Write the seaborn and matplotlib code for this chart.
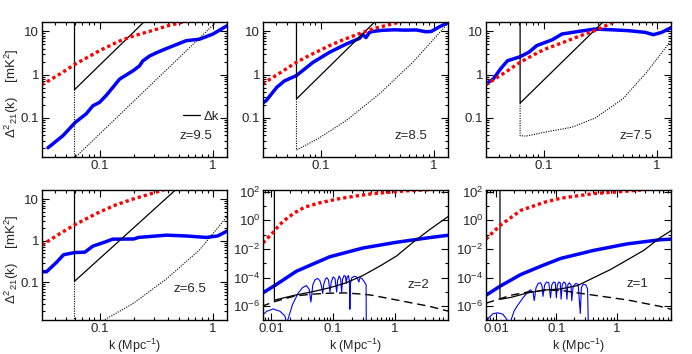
import numpy as np
import matplotlib
matplotlib.use('Agg')
import matplotlib.pyplot as plt
import seaborn as sns
from matplotlib.lines import Line2D
from matplotlib.ticker import FixedLocator, LogLocator, FuncFormatter, NullFormatter

# ---------------- z = 9.5 ----------------
z95_red_k = [0.0307, 0.045, 0.061, 0.08, 0.1, 0.15, 0.2, 0.3, 0.4, 0.5, 0.6]
z95_red_p = [0.58, 1.05, 1.76, 2.6, 3.6, 6.0, 7.9, 10.7, 13.5, 15.6, 17.5]
z95_blue_k = [0.035, 0.0475, 0.061, 0.076, 0.087, 0.1, 0.114, 0.131, 0.15, 0.197, 0.225,
              0.23, 0.24, 0.276, 0.316, 0.387, 0.58, 0.76, 1.0, 1.33]
z95_blue_p = [0.0204, 0.039, 0.079, 0.124, 0.19, 0.23, 0.33, 0.51, 0.79, 1.23, 1.6,
              1.75, 2.07, 2.7, 3.2, 4.0, 6.1, 6.6, 8.7, 13.5]
z95_dk_k = [0.060, 0.060, 0.246, 0.28]
z95_dk_p = [30, 0.45, 16.5, 23]
z95_dot_k = [0.060, 0.060, 1.07, 1.4]
z95_dot_p = [0.45, 0.0118, 16.5, 32]

# ---------------- z = 8.5 ----------------
z85_red_k = [0.0307, 0.045, 0.061, 0.08, 0.12, 0.16, 0.235, 0.3, 0.46, 0.55]
z85_red_p = [0.61, 1.15, 1.93, 2.8, 4.7, 6.5, 9.5, 11.8, 15.6, 17.5]
z85_blue_k = [0.0307, 0.033, 0.041, 0.048, 0.061, 0.0857, 0.12, 0.168, 0.22, 0.235, 0.251,
              0.27, 0.288, 0.35, 0.45, 0.55, 0.7, 0.85, 0.95, 1.1, 1.33]
z85_blue_p = [0.22, 0.25, 0.51, 0.72, 0.95, 1.93, 3.3, 5.1, 6.9, 8.5, 7.2,
              9.5, 10.0, 10.6, 10.9, 10.7, 10.8, 9.8, 10.0, 12.5, 16.0]
z85_dk_k = [0.0612, 0.0612, 0.30, 0.34]
z85_dk_p = [30, 0.275, 16.5, 22]
z85_dot_k = [0.0612, 0.0612, 0.098, 0.168, 0.33, 0.65, 1.31, 1.4]
z85_dot_p = [0.275, 0.018, 0.035, 0.087, 0.36, 1.93, 14.7, 18]

# ---------------- z = 7.5 ----------------
z75_red_k = [0.0307, 0.045, 0.062, 0.08, 0.103, 0.15, 0.204, 0.3, 0.40, 0.45]
z75_red_p = [0.58, 1.1, 1.93, 2.8, 3.9, 5.6, 7.7, 11.0, 15.9, 18]
z75_blue_k = [0.0307, 0.036, 0.042, 0.048, 0.062, 0.074, 0.087, 0.119, 0.145, 0.204,
              0.28, 0.4, 0.56, 0.79, 0.93, 1.1, 1.35]
z75_blue_p = [0.6, 0.8, 1.4, 2.1, 2.6, 3.3, 4.7, 6.4, 8.7, 10.0,
              11.3, 10.9, 10.4, 9.5, 8.4, 9.5, 12.4]
z75_dk_k = [0.062, 0.062, 0.334, 0.37]
z75_dk_p = [30, 0.22, 16.5, 21.5]
z75_dot_k = [0.062, 0.062, 0.07, 0.103, 0.178, 0.286, 0.5, 0.81, 1.36]
z75_dot_p = [0.22, 0.039, 0.038, 0.047, 0.061, 0.10, 0.275, 1.13, 6.6]

# ---------------- z = 6.5 ----------------
z65_red_k = [0.0307, 0.045, 0.060, 0.08, 0.1, 0.14, 0.197, 0.26, 0.34, 0.4]
z65_red_p = [0.78, 1.5, 2.4, 3.6, 4.9, 7.3, 10.0, 12.5, 15.6, 18]
z65_blue_k = [0.0307, 0.034, 0.042, 0.048, 0.060, 0.074, 0.087, 0.114, 0.13, 0.2, 0.22,
              0.39, 0.58, 0.87, 1.1, 1.33]
z65_blue_p = [0.18, 0.18, 0.31, 0.46, 0.52, 0.53, 0.74, 0.95, 1.09, 1.1, 1.2,
              1.36, 1.3, 1.2, 1.3, 1.7]
z65_dk_k = [0.060, 0.060, 0.44, 0.5]
z65_dk_p = [30, 0.106, 14.3, 19.6]
z65_dot_k = [0.060, 0.060, 0.107, 0.197, 0.387, 0.76, 1.33]
z65_dot_p = [0.106, 0.002, 0.012, 0.031, 0.12, 0.6, 3.8]

# ---------------- z = 2 (log10 of power) ----------------
z2_red_k = [0.0074, 0.0107, 0.0137, 0.0186, 0.0255, 0.0347, 0.06, 0.12, 0.25, 0.41, 1.0, 1.5, 3.8]
z2_red_lp = [-1.575, -0.85, -0.3, 0.2, 0.6, 0.92, 1.22, 1.5, 1.72, 1.85, 2.0, 2.06, 2.15]
z2_blue_k = [0.0074, 0.0114, 0.0255, 0.047, 0.088, 0.30, 1.04, 3.6, 7.1]
z2_blue_lp = [-5.05, -4.55, -3.55, -3.05, -2.54, -1.93, -1.53, -1.2, -1.04]
z2_dk_k = [0.0113, 0.0113, 0.0116, 0.024, 0.045, 0.088, 0.163, 0.30, 0.56, 1.04, 1.94, 3.6, 7.1, 8.0]
z2_dk_lp = [3.0, -5.6, -5.55, -5.22, -4.99, -4.7, -4.35, -3.85, -3.2, -2.5, -1.53, -0.64, 0.26, 0.4]
z2_dash_k = [0.0070, 0.0115, 0.024, 0.045, 0.088, 0.155, 0.30, 0.42, 1.04, 3.6, 7.1]
z2_dash_lp = [-6.0, -5.66, -5.28, -5.15, -5.08, -5.06, -5.15, -5.22, -5.55, -6.0, -6.33]
z2_wig_k = [0.0070, 0.0085, 0.0108, 0.0139, 0.0167, 0.0178,
            0.022, 0.027, 0.032, 0.037, 0.041, 0.0438,
            0.047, 0.051, 0.056, 0.061, 0.065, 0.0678,
            0.071, 0.075, 0.079, 0.084, 0.089,
            0.093, 0.100, 0.107, 0.114,
            0.118, 0.125, 0.132, 0.137,
            0.142, 0.150, 0.158, 0.163, 0.168, 0.176, 0.183, 0.186,
            0.19, 0.20, 0.22, 0.24, 0.26, 0.27, 0.29, 0.32, 0.34, 0.342]
z2_wig_lp = [-6.67, -6.34, -6.18, -6.34, -6.67, -7.2,
             -5.9, -5.1, -4.7, -4.55, -4.8, -5.7,
             -4.5, -4.15, -4.05, -4.2, -4.6, -5.1,
             -4.4, -4.1, -4.0, -4.15, -5.0,
             -4.3, -3.95, -4.05, -5.0,
             -4.2, -3.88, -4.1, -5.0,
             -4.1, -3.85, -3.9, -4.4, -3.95, -3.85, -4.2, -6.2,
             -4.4, -4.0, -3.9, -3.95, -4.3, -4.0, -4.05, -4.3, -4.5, -7.5]

# ---------------- z = 1 (log10 of power) ----------------
z1_red_k = [0.0068, 0.009, 0.0121, 0.0259, 0.063, 0.119, 0.42, 1.5, 3.0]
z1_red_lp = [-1.31, -0.8, -0.30, 0.704, 1.26, 1.55, 1.87, 2.04, 2.15]
z1_blue_k = [0.0068, 0.0121, 0.0259, 0.063, 0.119, 0.42, 1.5, 5.3, 8.0]
z1_blue_lp = [-5.22, -4.55, -3.77, -3.1, -2.65, -2.09, -1.64, -1.35, -1.31]
z1_dk_k = [0.0116, 0.0116, 0.0177, 0.0334, 0.063, 0.119, 0.224, 0.42, 0.79, 1.5, 2.83, 5.3, 7.8, 9.0]
z1_dk_lp = [3.0, -5.51, -5.37, -5.06, -4.86, -4.78, -4.55, -3.99, -3.43, -2.76, -2.09, -1.2, -0.75, -0.5]
z1_dash_k = [0.0068, 0.0177, 0.0334, 0.063, 0.119, 0.224, 0.42, 1.5, 5.3, 8.0]
z1_dash_lp = [-5.78, -5.22, -5.0, -4.88, -4.88, -5.06, -5.22, -5.55, -6.0, -6.2]
z1_wig_k = [0.0068, 0.0075, 0.0090, 0.0107, 0.0130, 0.0150, 0.0166,
            0.020, 0.023, 0.028, 0.0334, 0.037, 0.041, 0.043,
            0.046, 0.050, 0.055, 0.058, 0.060,
            0.064, 0.069, 0.075, 0.080,
            0.084, 0.090, 0.096, 0.100,
            0.104, 0.110, 0.116, 0.120,
            0.125, 0.133, 0.143, 0.150,
            0.155, 0.165, 0.175, 0.180,
            0.19, 0.21, 0.23, 0.25,
            0.26, 0.28, 0.31, 0.33, 0.34]
z1_wig_lp = [-7.3, -6.8, -6.5, -6.45, -6.55, -6.9, -7.3,
             -6.3, -5.9, -5.4, -5.0, -4.85, -5.0, -5.6,
             -4.7, -4.4, -4.35, -4.6, -5.3,
             -4.5, -4.3, -4.35, -5.4,
             -4.5, -4.3, -4.35, -5.4,
             -4.5, -4.3, -4.35, -5.5,
             -4.5, -4.3, -4.4, -5.5,
             -4.5, -4.35, -4.5, -5.6,
             -4.6, -4.4, -4.45, -6.5,
             -4.7, -4.45, -4.5, -4.8, -7.5]

top_panels = [
    ('z=9.5', z95_red_k, z95_red_p, z95_blue_k, z95_blue_p, z95_dk_k, z95_dk_p, z95_dot_k, z95_dot_p),
    ('z=8.5', z85_red_k, z85_red_p, z85_blue_k, z85_blue_p, z85_dk_k, z85_dk_p, z85_dot_k, z85_dot_p),
    ('z=7.5', z75_red_k, z75_red_p, z75_blue_k, z75_blue_p, z75_dk_k, z75_dk_p, z75_dot_k, z75_dot_p),
    ('z=6.5', z65_red_k, z65_red_p, z65_blue_k, z65_blue_p, z65_dk_k, z65_dk_p, z65_dot_k, z65_dot_p),
]
low_panels = [
    ('z=2', z2_red_k, z2_red_lp, z2_blue_k, z2_blue_lp, z2_dk_k, z2_dk_lp, z2_dash_k, z2_dash_lp, z2_wig_k, z2_wig_lp),
    ('z=1', z1_red_k, z1_red_lp, z1_blue_k, z1_blue_lp, z1_dk_k, z1_dk_lp, z1_dash_k, z1_dash_lp, z1_wig_k, z1_wig_lp),
]

sns.set_theme(style='ticks')
plt.rcParams['font.family'] = ['Liberation Sans', 'DejaVu Sans']
plt.rcParams['mathtext.default'] = 'regular'
plt.rcParams['axes.linewidth'] = 1.0
plt.rcParams['axes.edgecolor'] = 'black'

fig = plt.figure(figsize=(6.92, 3.54), dpi=100)
W = 185 / 692
lefts = [42 / 692, 263 / 692, 486 / 692]
bot_top, h_top = 1 - 157 / 354, 135 / 354
bot_low, h_low = 1 - 320 / 354, 130 / 354
axes = [fig.add_axes([lefts[0], bot_top, W, h_top]),
        fig.add_axes([lefts[1], bot_top, W, h_top]),
        fig.add_axes([lefts[2], bot_top, W, h_top]),
        fig.add_axes([lefts[0], bot_low, W, h_low]),
        fig.add_axes([lefts[1], bot_low, W, h_low]),
        fig.add_axes([lefts[2], bot_low, W, h_low])]

RED = '#ff0000'
BLUE = '#0000ff'
TXT = 9.5
ztxt_pos = [(0.92, 0.155), (0.89, 0.155), (0.90, 0.155), (0.89, 0.235), (0.90, 0.27), (0.88, 0.275)]


def line(ax, k, p, **kw):
    sns.lineplot(x=list(k), y=list(p), ax=ax, sort=False, estimator=None, **kw)


def style_ticks(ax):
    ax.tick_params(which='both', direction='in', top=True, right=True,
                   labelsize=TXT, color='black', width=0.8, pad=2)
    ax.tick_params(which='major', length=5)
    ax.tick_params(which='minor', length=2.5)


for i, (lab, rk, rp, bk, bp, dk, dp, tk, tp) in enumerate(top_panels):
    ax = axes[i]
    ax.set_xscale('log')
    ax.set_yscale('log')
    line(ax, bk, bp, color=BLUE, lw=2.5)
    line(ax, dk, dp, color='black', lw=0.9)
    line(ax, tk, tp, color='black', lw=0.8, linestyle=(0, (1, 1.2)))
    line(ax, rk, rp, color=RED, lw=2.4, linestyle=(0, (1, 0.9)))
    ax.set_xlim(0.031, 1.33)
    ax.set_ylim(0.0125, 16.5)
    ax.xaxis.set_major_locator(FixedLocator([0.1, 1]))
    ax.xaxis.set_major_formatter(FuncFormatter(lambda v, p: f'{v:g}'))
    ax.xaxis.set_minor_locator(LogLocator(base=10, subs=np.arange(2, 10), numticks=20))
    ax.xaxis.set_minor_formatter(NullFormatter())
    ax.yaxis.set_major_locator(FixedLocator([0.1, 1, 10]))
    ax.yaxis.set_major_formatter(FuncFormatter(lambda v, p: f'{v:g}'))
    ax.yaxis.set_minor_locator(LogLocator(base=10, subs=np.arange(2, 10), numticks=20))
    ax.yaxis.set_minor_formatter(NullFormatter())
    style_ticks(ax)
    ax.text(ztxt_pos[i][0], ztxt_pos[i][1], lab, transform=ax.transAxes,
            ha='right', va='center', fontsize=TXT)
    ax.set_xlabel('')
    ax.set_ylabel('')

for n, (lab, rk, rp, bk, bp, dk, dp, sk, sp, wk, wp) in enumerate(low_panels):
    ax = axes[4 + n]
    ax.set_xscale('log')
    ax.set_yscale('log')
    line(ax, wk, 10 ** np.array(wp), color=BLUE, lw=0.8)
    line(ax, bk, 10 ** np.array(bp), color=BLUE, lw=2.5)
    line(ax, sk, 10 ** np.array(sp), color='black', lw=1.0, linestyle=(0, (6, 3.5)))
    line(ax, dk, 10 ** np.array(dp), color='black', lw=0.9)
    line(ax, rk, 10 ** np.array(rp), color=RED, lw=2.4, linestyle=(0, (1, 0.9)))
    if n == 0:
        ax.set_xlim(0.0074, 7.1)
    else:
        ax.set_xlim(0.0068, 8.0)
    ax.set_ylim(10 ** -6.95, 10 ** 2.12)
    ax.xaxis.set_major_locator(FixedLocator([0.01, 0.1, 1]))
    ax.xaxis.set_major_formatter(FuncFormatter(lambda v, p: f'{v:g}'))
    ax.xaxis.set_minor_locator(LogLocator(base=10, subs=np.arange(2, 10), numticks=20))
    ax.xaxis.set_minor_formatter(NullFormatter())
    ax.yaxis.set_major_locator(FixedLocator([1e-6, 1e-4, 1e-2, 1, 1e2]))
    ax.yaxis.set_major_formatter(FuncFormatter(lambda v, p: r'$10^{%d}$' % round(np.log10(v))))
    ax.yaxis.set_minor_locator(FixedLocator([1e-7, 1e-5, 1e-3, 1e-1, 1e1]))
    ax.yaxis.set_minor_formatter(NullFormatter())
    style_ticks(ax)
    ax.text(ztxt_pos[4 + n][0], ztxt_pos[4 + n][1], lab, transform=ax.transAxes,
            ha='right', va='center', fontsize=TXT)
    ax.set_ylabel('')

ylab = r'Δ$^2$$_{21}$(k)    [mK$^2$]'
for ax in (axes[0], axes[3]):
    ax.set_ylabel(ylab, fontsize=9.5)
    ax.yaxis.set_label_coords(-0.112, 0.47)
for ax in axes[3:]:
    ax.set_xlabel(r'k (Mpc$^{-1}$)', fontsize=9)
    ax.xaxis.set_label_coords(0.5, -0.13)
for ax in axes[:3]:
    ax.set_xlabel('')

axes[0].legend(handles=[Line2D([], [], color='black', lw=0.9)], labels=['Δk'],
               frameon=False, fontsize=TXT, handlelength=1.3, handletextpad=0.3,
               loc='center right', bbox_to_anchor=(1.0, 0.30), borderaxespad=0.2)

fig.savefig('out.png', dpi=100)
